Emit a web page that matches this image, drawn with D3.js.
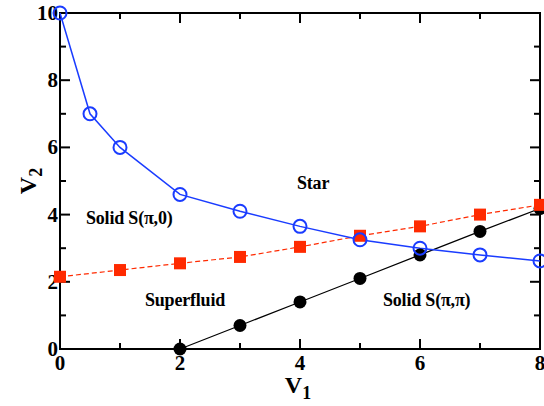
<!DOCTYPE html>
<html>
<head>
<meta charset="utf-8">
<title>Phase diagram</title>
<script src="https://d3js.org/d3.v7.min.js"></script>
<style>
  body { margin: 0; background: #fff; }
</style>
</head>
<body>
<script>
// data
var starX = [0, 0.5, 1, 2, 3, 4, 5, 6, 7, 8];
var starY = [10, 7, 6, 4.6, 4.1, 3.65, 3.25, 3.0, 2.8, 2.62];
var solidPi0X = [0, 1, 2, 3, 4, 5, 6, 7, 8];
var solidPi0Y = [2.15, 2.35, 2.55, 2.74, 3.04, 3.37, 3.65, 4.0, 4.29];
var solidPiPiX = [2, 3, 4, 5, 6, 7, 8];
var solidPiPiY = [0, 0.7, 1.4, 2.1, 2.8, 3.5, 4.18];
var xTicks = [0, 2, 4, 6, 8];
var yTicks = [0, 2, 4, 6, 8, 10];

var W = 544, H = 406;
var m = {left: 60, right: 4, top: 13, bottom: 57};
var FONT = "Liberation Serif, Times New Roman, serif";

var svg = d3.select("body").append("svg").attr("width", W).attr("height", H)
  .attr("font-family", FONT).attr("font-weight", "bold");

var x = d3.scaleLinear().domain([0, 8]).range([m.left, W - m.right]);
var y = d3.scaleLinear().domain([0, 10]).range([H - m.bottom, m.top]);

function pts(xs, ys) { return xs.map(function(d, i){ return [d, ys[i]]; }); }
var line = d3.line().x(function(d){ return x(d[0]); }).y(function(d){ return y(d[1]); });

// ticks (inward) on all four sides
var minorX = d3.range(0, 9, 1), minorY = d3.range(0, 11, 1);
var g = svg.append("g");
minorX.forEach(function(v){
  var len = (v % 2 == 0) ? 10 : 6;
  g.append("line").attr("x1", x(v)).attr("x2", x(v)).attr("y1", y(0)).attr("y2", y(0) - len)
    .attr("stroke", "#000").attr("stroke-width", 2);
  g.append("line").attr("x1", x(v)).attr("x2", x(v)).attr("y1", y(10)).attr("y2", y(10) + len)
    .attr("stroke", "#000").attr("stroke-width", 2);
});
minorY.forEach(function(v){
  var len = (v % 2 == 0) ? 10 : 6;
  g.append("line").attr("y1", y(v)).attr("y2", y(v)).attr("x1", x(0)).attr("x2", x(0) + len)
    .attr("stroke", "#000").attr("stroke-width", 2);
  g.append("line").attr("y1", y(v)).attr("y2", y(v)).attr("x1", x(8)).attr("x2", x(8) - len)
    .attr("stroke", "#000").attr("stroke-width", 2);
});
svg.append("rect").attr("x", x(0)).attr("y", y(10)).attr("width", x(8) - x(0)).attr("height", y(0) - y(10))
  .attr("fill", "none").attr("stroke", "#000").attr("stroke-width", 2);

// tick labels
svg.selectAll("text.xt").data(xTicks).enter().append("text")
  .attr("x", function(d){ return x(d); }).attr("y", y(0) + 21)
  .attr("text-anchor", "middle").attr("font-size", 21).text(function(d){ return d; });
svg.selectAll("text.yt").data(yTicks).enter().append("text")
  .attr("x", x(0) - 2).attr("y", function(d){ return y(d) + 7; })
  .attr("text-anchor", "end").attr("font-size", 21).text(function(d){ return d; });

// axis titles
var xl = svg.append("text").attr("x", 298).attr("y", 393).attr("text-anchor", "middle").attr("font-size", 24);
xl.append("tspan").text("V");
xl.append("tspan").attr("font-size", 18).attr("dy", 6).text("1");
var yl = svg.append("text").attr("transform", "translate(36,181) rotate(-90)").attr("text-anchor", "middle").attr("font-size", 24);
yl.append("tspan").text("V");
yl.append("tspan").attr("font-size", 18).attr("dy", 6).text("2");

// curves
svg.append("path").attr("d", line(pts(solidPiPiX, solidPiPiY))).attr("fill", "none").attr("stroke", "#000").attr("stroke-width", 1.2);
svg.append("path").attr("d", line(pts(solidPi0X, solidPi0Y))).attr("fill", "none").attr("stroke", "#ff2a00")
  .attr("stroke-width", 1.2).attr("stroke-dasharray", "5,3");
svg.append("path").attr("d", line(pts(starX, starY))).attr("fill", "none").attr("stroke", "#1a3cff").attr("stroke-width", 1.5);

// markers
svg.selectAll("circle.pp").data(pts(solidPiPiX, solidPiPiY)).enter().append("circle")
  .attr("cx", function(d){ return x(d[0]); }).attr("cy", function(d){ return y(d[1]); })
  .attr("r", 6.5).attr("fill", "#000");
svg.selectAll("rect.p0").data(pts(solidPi0X, solidPi0Y)).enter().append("rect")
  .attr("x", function(d){ return x(d[0]) - 6; }).attr("y", function(d){ return y(d[1]) - 6; })
  .attr("width", 12).attr("height", 12).attr("fill", "#ff2a00");
svg.selectAll("circle.st").data(pts(starX, starY)).enter().append("circle")
  .attr("cx", function(d){ return x(d[0]); }).attr("cy", function(d){ return y(d[1]); })
  .attr("r", 6.5).attr("fill", "none").attr("stroke", "#1a3cff").attr("stroke-width", 2);

// region labels
var labels = [["Star", 297, 189], ["Solid S(\u03c0,0)", 86, 224], ["Superfluid", 145, 306], ["Solid S(\u03c0,\u03c0)", 383, 306]];
labels.forEach(function(l){
  svg.append("text").attr("x", l[1]).attr("y", l[2]).attr("font-size", 18).attr("letter-spacing", -0.2).text(l[0]);
});
</script>
</body>
</html>
